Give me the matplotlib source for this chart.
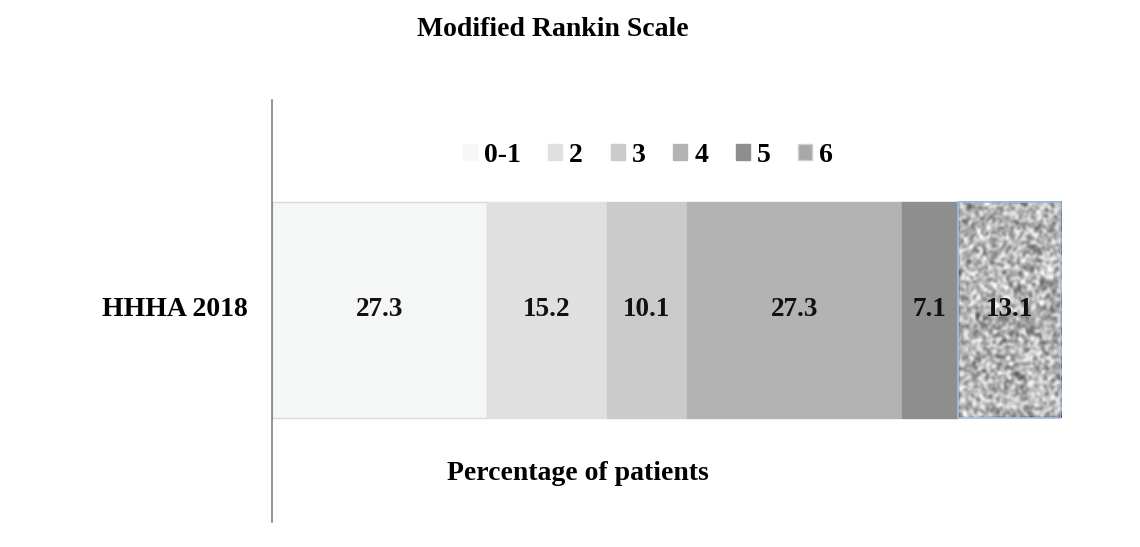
import numpy as np
import matplotlib
matplotlib.use('Agg')
from matplotlib import pyplot as plt
from matplotlib.patches import Patch

title = 'Modified Rankin Scale'
row_label = 'HHHA 2018'
x_title = 'Percentage of patients'
categories = ['0-1', '2', '3', '4', '5', '6']
values = [27.3, 15.2, 10.1, 27.3, 7.1, 13.1]
colors = ['#f5f6f6', '#e0e0e0', '#cbcbcb', '#b3b3b3', '#8e8e8e', '#b8b8b8']

plt.rcParams['font.family'] = ['Liberation Serif', 'DejaVu Serif']
plt.rcParams['font.weight'] = 'bold'

W, H = 1140, 547
fig = plt.figure(figsize=(W / 100, H / 100), dpi=100)
# axes spans the vertical line (x=272) to the bar end, rows 100..522 in pixels
ax = fig.add_axes([272 / W, 1 - 522 / H, (1061 - 272) / W, 422 / H])

bar_y, bar_h = 310, 216
left = 0
handles = []
for i, (cat, val, col) in enumerate(zip(categories, values, colors)):
    edge = '#d9d9d9' if i == 0 else col
    if i == len(values) - 1:
        # speckled texture for the last segment
        rng = np.random.default_rng(7)
        noise = rng.random((120, 60))
        k = np.array([0.25, 0.5, 0.25])
        noise = np.apply_along_axis(lambda r: np.convolve(r, k, mode='same'), 1, noise)
        noise = np.apply_along_axis(lambda r: np.convolve(r, k, mode='same'), 0, noise)
        noise = (noise - noise.min()) / (noise.max() - noise.min())
        ax.imshow(noise, cmap='gray', vmin=-0.35, vmax=0.9, aspect='auto',
                  extent=(left, left + val, bar_y + bar_h / 2, bar_y - bar_h / 2),
                  interpolation='bilinear', zorder=2)
        ax.barh(bar_y, val, height=bar_h, left=left, facecolor='none',
                edgecolor='#9dbfe3', linewidth=1.2, zorder=3)
        handles.append(Patch(facecolor='#a8a8a8', edgecolor='#cfcfcf', label=cat))
    else:
        ax.barh(bar_y, val, height=bar_h, left=left, color=col, edgecolor=edge,
                linewidth=1.0, zorder=2)
        handles.append(Patch(facecolor=col, edgecolor=col, label=cat))
    ax.text(left + val / 2, bar_y, '{:.1f}'.format(val), ha='center', va='center',
            fontsize=19.5, fontweight='bold', color='#111111', zorder=4)
    left += val

ax.set_xlim(0, sum(values))
ax.set_ylim(522, 100)

for s in ['top', 'right', 'bottom']:
    ax.spines[s].set_visible(False)
ax.spines['left'].set_color('#808080')
ax.spines['left'].set_linewidth(1.2)
ax.set_xticks([])
ax.set_yticks([])

fig.text(553 / W, 1 - 30 / H, title, ha='center', va='center', fontsize=20, fontweight='bold')
fig.text(175 / W, 1 - 310 / H, row_label, ha='center', va='center', fontsize=20, fontweight='bold')
fig.text(578 / W, 1 - 473 / H, x_title, ha='center', va='center', fontsize=20, fontweight='bold')

fig.legend(handles=handles, loc='center', bbox_to_anchor=(648 / W, 1 - 155 / H), ncol=6,
           frameon=False, handlelength=0.5, handleheight=0.5, handletextpad=0.25,
           columnspacing=1.0, prop={'size': 20, 'weight': 'bold'})

plt.savefig('out.png', dpi=100)
